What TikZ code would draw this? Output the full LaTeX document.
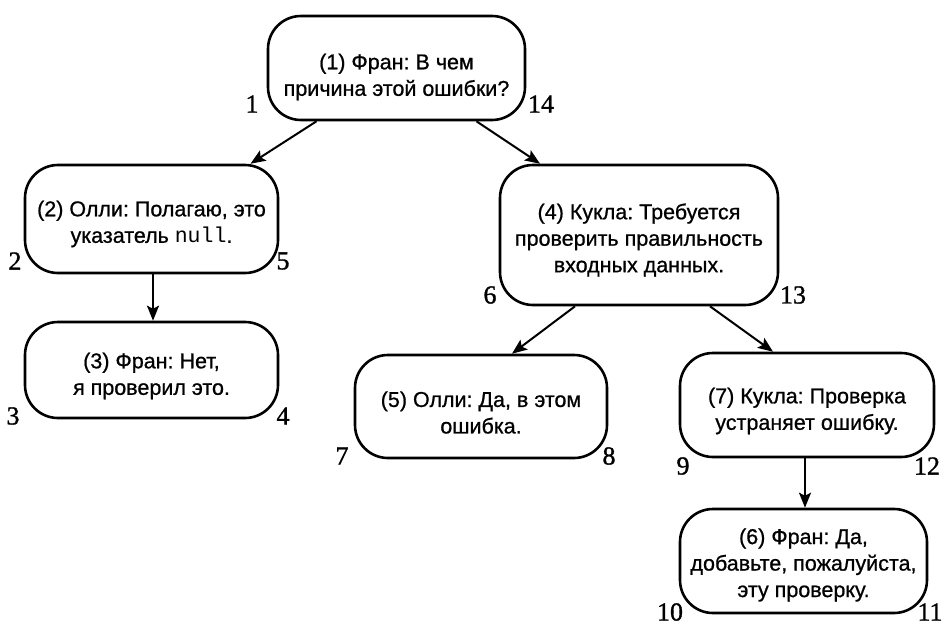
\documentclass[tikz,border=0pt]{standalone}
\usepackage{fontspec}
\setmainfont{Liberation Sans}[FakeBold=0.8]
\newfontfamily\numfont{Liberation Serif}[FakeBold=1.2]
\newfontfamily\codefont{Liberation Mono}
\usetikzlibrary{arrows.meta}
\frenchspacing
\begin{document}
\begin{tikzpicture}[x=1pt,y=-1pt,
  box/.style={draw, line width=2.6pt, rounded corners=33pt, inner sep=0pt},
  txt/.style={align=center, font=\fontsize{21.5}{26.5}\selectfont, inner sep=0pt},
  num/.style={font=\numfont\fontsize{26}{26}\selectfont, inner sep=0pt},
  arr/.style={line width=2pt, -{Stealth[length=15pt, width=12pt, inset=3pt]}}]
\useasboundingbox (0,0) rectangle (943,627);

% dialogue boxes
\node[box, minimum width=257pt, minimum height=104pt] (b1) at (396.5,68) {};
\node[box, minimum width=253pt, minimum height=108pt] (b2) at (151.5,219) {};
\node[box, minimum width=253pt, minimum height=96pt] (b3) at (151.5,370) {};
\node[box, minimum width=278pt, minimum height=140pt] (b4) at (639,235) {};
\node[box, minimum width=252pt, minimum height=103pt] (b5) at (481,406.5) {};
\node[box, minimum width=254pt, minimum height=104pt] (b7) at (807,405) {};
\node[box, minimum width=247pt, minimum height=104pt] (b6) at (803.5,561) {};

% box texts, set a little below centre
\node[txt] (t1) at ([yshift=-9pt]b1.center) {(1) Фран: В чем\\причина этой ошибки?};
\node[txt] (t2) at ([yshift=-5pt]b2.center) {(2) Олли: Полагаю, это\\указатель {\codefont null}.};
\node[txt] (t3) at ([yshift=-6pt]b3.center) {(3) Фран: Нет,\\я проверил это.};
\node[txt] (t4) at ([yshift=-5pt]b4.center) {(4) Кукла: Требуется\\проверить правильность\\входных данных.};
\node[txt] (t5) at ([yshift=-6pt]b5.center) {(5) Олли: Да, в этом\\ошибка.};
\node[txt] (t7) at ([yshift=-6pt]b7.center) {(7) Кукла: Проверка\\устраняет ошибку.};
\node[txt] (t6) at ([yshift=-4pt]b6.center) {(6) Фран: Да,\\добавьте, пожалуйста,\\эту проверку.};

% traversal numbers
\node[num] (n1) at (252,104) {1};
\node[num] (n14) at (541,104) {14};
\node[num] (n2) at (15,261) {2};
\node[num] (n5) at (283,261) {5};
\node[num] (n3) at (13,416) {3};
\node[num] (n4) at (283,416) {4};
\node[num] (n6) at (490,295) {6};
\node[num] (n13) at (793,295) {13};
\node[num] (n7) at (342,456) {7};
\node[num] (n8) at (609,456) {8};
\node[num] (n9) at (683,466) {9};
\node[num] (n12) at (927,466) {12};
\node[num] (n10) at (670,612) {10};
\node[num] (n11) at (930,612) {11};

% connectors
\draw[arr] ([xshift=-80pt]b1.south) -- ([xshift=99pt]b2.north);
\draw[arr] ([xshift=80pt]b1.south) -- ([xshift=-99pt]b4.north);
\draw[arr] ([xshift=1.5pt]b2.south) -- ([xshift=1.5pt]b3.north);
\draw[arr] ([xshift=-64pt]b4.south) -- ([xshift=31pt]b5.north);
\draw[arr] ([xshift=71pt]b4.south) -- ([xshift=-34pt]b7.north);
\draw[arr] ([xshift=-2pt]b7.south) -- ([xshift=1.5pt]b6.north);
\end{tikzpicture}
\end{document}
